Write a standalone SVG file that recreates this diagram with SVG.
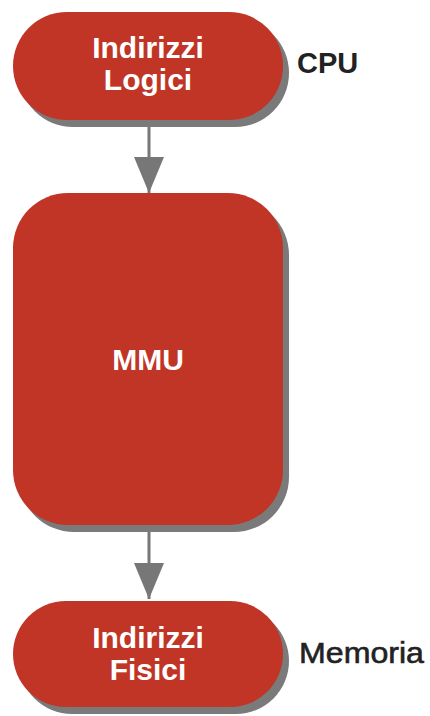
<svg xmlns="http://www.w3.org/2000/svg" width="430" height="716" viewBox="0 0 430 716">
  <style>
    .shadow { fill: #7a7a7a; }
    .box { fill: #c03525; }
    .in { font-family: "Liberation Sans", Arial, sans-serif; font-weight: bold; font-size: 30px; fill: #ffffff; text-anchor: middle; }
    .side { font-family: "Liberation Sans", Arial, sans-serif; fill: #222222; }
    .link { stroke: #777777; stroke-width: 3; fill: none; }
  </style>
  <defs>
    <marker id="arrow" markerWidth="36" markerHeight="30" refX="36" refY="15" orient="auto" markerUnits="userSpaceOnUse">
      <path d="M0,0 L36,15 L0,30 Z" fill="#777777"/>
    </marker>
  </defs>

  <g id="connectors">
    <line class="link" x1="149" y1="127" x2="149" y2="193" marker-end="url(#arrow)"/>
    <line class="link" x1="149" y1="532" x2="149" y2="599" marker-end="url(#arrow)"/>
  </g>

  <g id="logical">
    <rect class="shadow" x="19" y="19" width="270" height="108" rx="54"/>
    <rect class="box" x="13" y="12" width="270" height="108" rx="54"/>
    <text class="in" x="148" y="58">Indirizzi</text>
    <text class="in" x="148" y="90">Logici</text>
  </g>

  <g id="cpu-label">
    <text class="side" x="297" y="73" font-size="29" font-weight="bold">CPU</text>
  </g>

  <g id="mmu">
    <rect class="shadow" x="19" y="200" width="270" height="332" rx="55"/>
    <rect class="box" x="13" y="193" width="270" height="332" rx="55"/>
    <text class="in" x="148" y="370">MMU</text>
  </g>

  <g id="physical">
    <rect class="shadow" x="19" y="608" width="270" height="106" rx="53"/>
    <rect class="box" x="13" y="601" width="270" height="106" rx="53"/>
    <text class="in" x="148" y="648">Indirizzi</text>
    <text class="in" x="148" y="680">Fisici</text>
  </g>

  <g id="memory-label">
    <text class="side" x="299" y="663" font-size="30" stroke="#222222" stroke-width="0.6" textLength="125" lengthAdjust="spacingAndGlyphs">Memoria</text>
  </g>
</svg>
